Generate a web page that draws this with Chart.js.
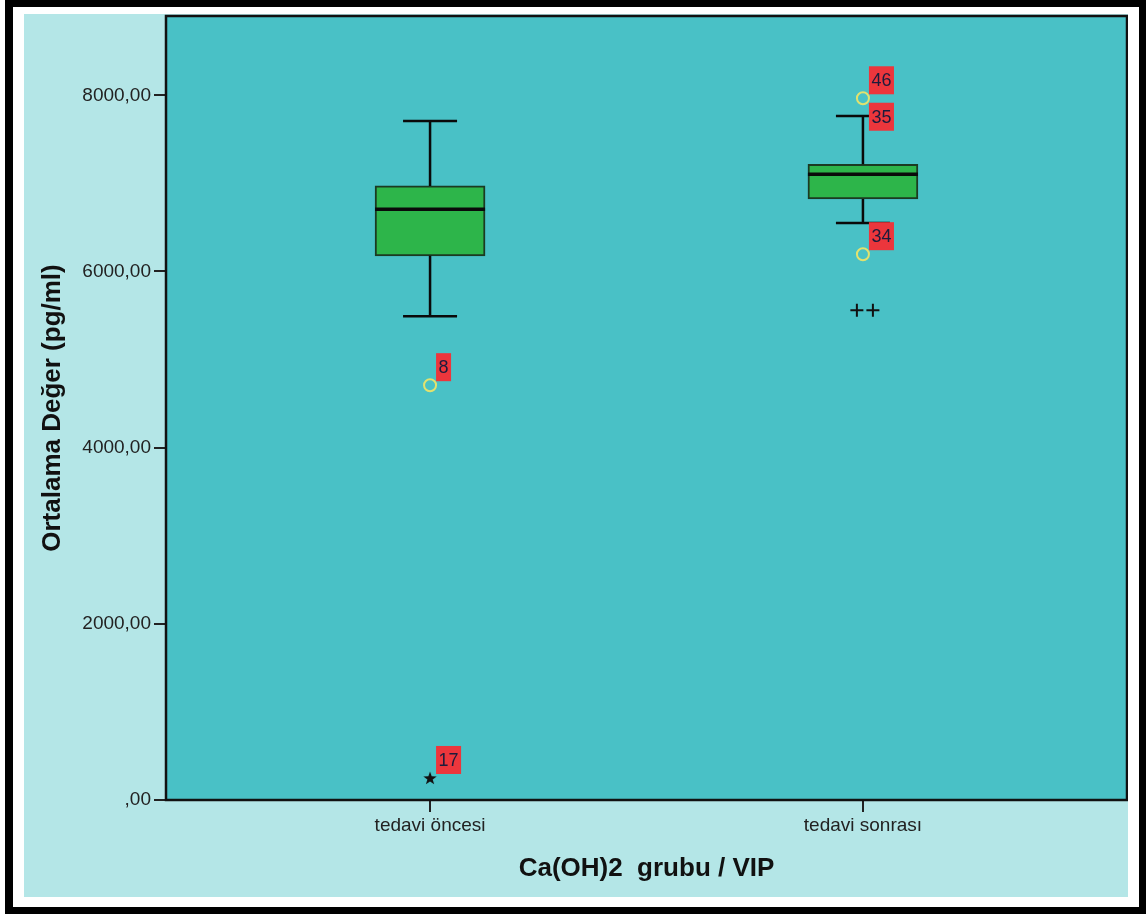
<!DOCTYPE html>
<html>
<head>
<meta charset="utf-8">
<script src="https://cdn.jsdelivr.net/npm/chart.js@4.4.1/dist/chart.umd.min.js"></script>
<style>
  body { margin: 0; background: #fff; }
  #cerceve { position: absolute; left: 5px; top: 0; width: 1141px; height: 914px; box-sizing: border-box;
             border: 7px solid #000; border-left-width: 8px; background: #fff; }
  #grafik { position: absolute; left: 24px; top: 14px; background: #b4e6e7; }
</style>
</head>
<body>
<div id="cerceve"></div>
<canvas id="grafik" width="1104" height="883"></canvas>
<script>
// Kutu grafiği verileri (SPSS çıktısından okunan değerler)
const kategoriler = ["tedavi öncesi", "tedavi sonrası"];
const altBiyik = [5492, 6551];
const q1 = [6177, 6823];
const medyan = [6706, 7103];
const q3 = [6971, 7217];
const ustBiyik = [7708, 7765];
const yTikler = [0, 2000, 4000, 6000, 8000];

// Aykırı değerler (daire)
const aykiriKat = [0, 1, 1];
const aykiriDeger = [4709, 7966, 6196];
// Uç değerler (yıldız)
const ucKat = [0];
const ucDeger = [250];
// "++" işaretleri
const artiX = [0.986, 1.023];
const artiDeger = [5560, 5560];
// Vaka numarası etiketleri
const etiketMetin = ["8", "17", "46", "35", "34"];
const etiketKat = [0, 0, 1, 1, 1];
const etiketDeger = [4709, 250, 7966, 7552, 6196];

const yazi = "'Liberation Sans', Arial, sans-serif";

// Dolu beş köşeli yıldız (SPSS uç değer işareti)
const yildiz = document.createElement("canvas");
yildiz.width = 16; yildiz.height = 16;
(function () {
  const c = yildiz.getContext("2d");
  c.beginPath();
  for (let i = 0; i < 10; i++) {
    const r = i % 2 === 0 ? 7 : 2.8;
    const a = -Math.PI / 2 + i * Math.PI / 5;
    c.lineTo(8 + r * Math.cos(a), 8.6 + r * Math.sin(a));
  }
  c.closePath();
  c.fillStyle = "#111";
  c.fill();
})();

// Bıyıklar, medyan, zemin, etiketler ve çerçeve
const kutuCizim = {
  id: "kutuCizim",
  beforeDraw(chart) {
    const { ctx, chartArea: a } = chart;
    ctx.save();
    ctx.fillStyle = "#49c1c6";
    ctx.fillRect(a.left, a.top, a.right - a.left, a.bottom - a.top);
    ctx.restore();
  },
  afterDatasetDraw(chart, args) {
    if (args.meta.type !== "bar") return;
    const { ctx } = chart;
    const x = chart.scales.x, y = chart.scales.y;
    const yarim = 55, kapak = 27;
    ctx.save();
    ctx.strokeStyle = "#0a0a0a";
    ctx.lineCap = "butt";
    kategoriler.forEach((k, i) => {
      const px = x.getPixelForValue(i);
      ctx.lineWidth = 2.5;
      ctx.beginPath();
      ctx.moveTo(px, y.getPixelForValue(q3[i]));
      ctx.lineTo(px, y.getPixelForValue(ustBiyik[i]));
      ctx.moveTo(px, y.getPixelForValue(q1[i]));
      ctx.lineTo(px, y.getPixelForValue(altBiyik[i]));
      ctx.moveTo(px - kapak, y.getPixelForValue(ustBiyik[i]));
      ctx.lineTo(px + kapak, y.getPixelForValue(ustBiyik[i]));
      ctx.moveTo(px - kapak, y.getPixelForValue(altBiyik[i]));
      ctx.lineTo(px + kapak, y.getPixelForValue(altBiyik[i]));
      ctx.stroke();
      ctx.lineWidth = 3.5;
      ctx.beginPath();
      ctx.moveTo(px - yarim, y.getPixelForValue(medyan[i]));
      ctx.lineTo(px + yarim, y.getPixelForValue(medyan[i]));
      ctx.stroke();
    });
    ctx.restore();
  },
  afterDatasetsDraw(chart) {
    const { ctx, chartArea: a } = chart;
    const x = chart.scales.x, y = chart.scales.y;
    ctx.save();
    ctx.font = "18px " + yazi;
    ctx.textBaseline = "middle";
    etiketMetin.forEach((m, i) => {
      const px = x.getPixelForValue(etiketKat[i]) + 6;
      const py = y.getPixelForValue(etiketDeger[i]) - 18;
      const w = ctx.measureText(m).width + 5;
      ctx.fillStyle = "#ec363c";
      ctx.fillRect(px, py - 14, w, 28);
      ctx.fillStyle = "#1c1c3c";
      ctx.fillText(m, px + 2.5, py + 1);
    });
    ctx.strokeStyle = "#111";
    ctx.lineWidth = 2.5;
    ctx.strokeRect(a.left, a.top, a.right - a.left, a.bottom - a.top);
    ctx.restore();
  }
};

const grafik = new Chart(document.getElementById("grafik"), {
  type: "bar",
  data: {
    datasets: [
      {
        type: "bar",
        data: kategoriler.map((k, i) => ({ x: i, y: [q1[i], q3[i]] })),
        backgroundColor: "#2db54a",
        borderColor: "#1b3a22",
        borderWidth: 2,
        borderSkipped: false,
        barThickness: 110,
        order: 10
      },
      {
        type: "scatter",
        data: aykiriKat.map((k, i) => ({ x: k, y: aykiriDeger[i] })),
        pointStyle: "circle",
        radius: 6,
        borderWidth: 2,
        borderColor: "#e2e26e",
        backgroundColor: "rgba(0,0,0,0)",
        order: 1
      },
      {
        type: "scatter",
        data: ucKat.map((k, i) => ({ x: k, y: ucDeger[i] })),
        pointStyle: yildiz,
        order: 1
      },
      {
        type: "scatter",
        data: artiX.map((k, i) => ({ x: k, y: artiDeger[i] })),
        pointStyle: "cross",
        radius: 6.5,
        borderWidth: 2,
        borderColor: "#111",
        order: 1
      }
    ]
  },
  options: {
    responsive: false,
    animation: false,
    layout: { autoPadding: false, padding: { top: 2, right: 1, left: 0, bottom: 0 } },
    plugins: { legend: { display: false }, tooltip: { enabled: false } },
    scales: {
      x: {
        type: "linear",
        min: -0.61,
        max: 1.61,
        offset: false,
        afterFit: (s) => { s.height = 97; s.paddingLeft = 0; s.paddingRight = 0; },
        afterBuildTicks: (s) => { s.ticks = kategoriler.map((k, i) => ({ value: i })); },
        grid: { offset: false, drawOnChartArea: false, drawTicks: true, tickLength: 12, color: "#222", lineWidth: 2 },
        border: { display: false },
        ticks: {
          padding: 2,
          color: "#222",
          font: { family: yazi, size: 19 },
          callback: (v) => kategoriler[v]
        },
        title: {
          display: true,
          text: "Ca(OH)2  grubu / VIP",
          color: "#111",
          font: { family: yazi, size: 26, weight: "bold" },
          padding: { top: 0, bottom: 13 }
        }
      },
      y: {
        min: 0,
        max: 8900,
        afterFit: (s) => { s.width = 142; s.paddingTop = 0; s.paddingBottom = 0; },
        afterBuildTicks: (s) => { s.ticks = yTikler.map((v) => ({ value: v })); },
        grid: { drawOnChartArea: false, drawTicks: true, tickLength: 12, color: "#222", lineWidth: 2 },
        border: { display: false },
        ticks: {
          padding: 3,
          color: "#222",
          font: { family: yazi, size: 19 },
          callback: (v) => (v === 0 ? ",00" : v + ",00")
        },
        title: {
          display: true,
          text: "Ortalama Değer (pg/ml)",
          color: "#111",
          font: { family: yazi, size: 26, weight: "bold" },
          padding: { top: 13, bottom: 0 }
        }
      }
    }
  },
  plugins: [kutuCizim]
});
</script>
</body>
</html>
